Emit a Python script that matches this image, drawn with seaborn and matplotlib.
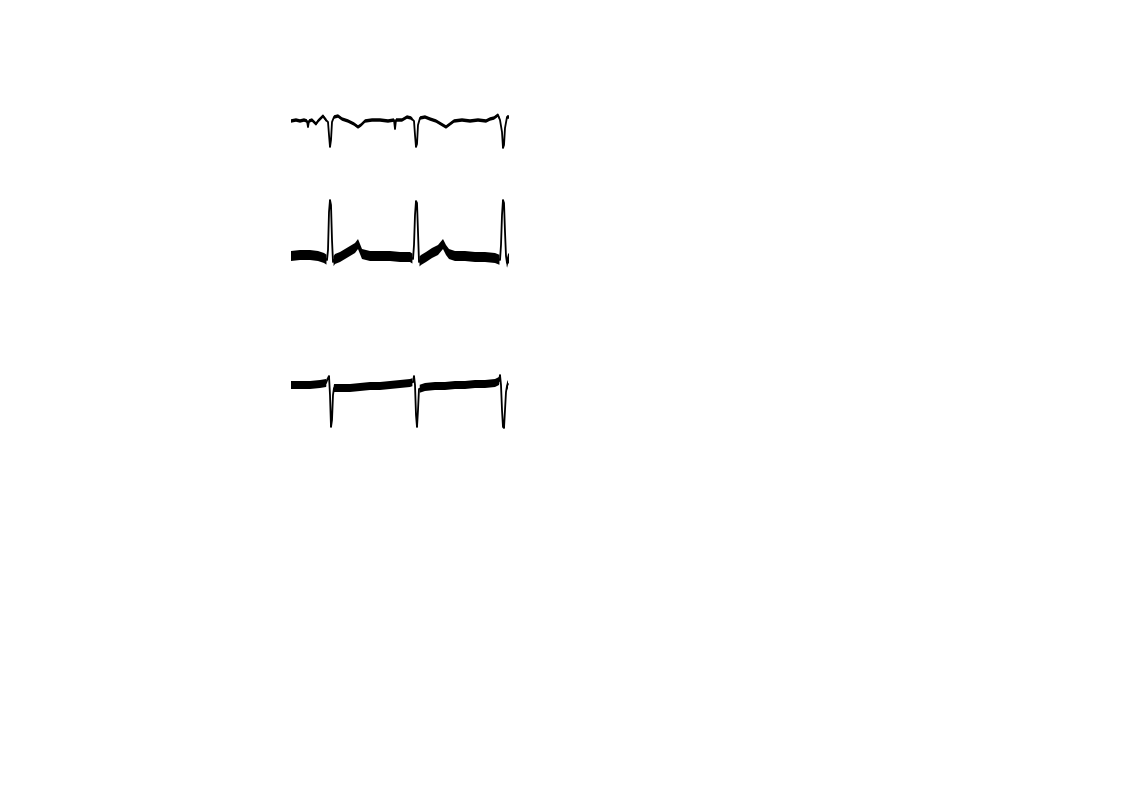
import numpy as np
import matplotlib
matplotlib.use("Agg")
import matplotlib.pyplot as plt
import seaborn as sns

# ECG leads: time in s, amplitude in mV
t1 = [0.00, 0.05, 0.09, 0.13, 0.16, 0.17, 0.18, 0.21, 0.25, 0.27, 0.32, 0.35, 0.37, 0.38,
      0.39, 0.40, 0.41, 0.43, 0.47, 0.51, 0.57, 0.63, 0.67, 0.70, 0.74, 0.81, 0.89, 0.97,
      1.03, 1.04, 1.05, 1.11, 1.16, 1.20, 1.23, 1.24, 1.25, 1.26, 1.27, 1.29, 1.34, 1.39,
      1.45, 1.50, 1.55, 1.59, 1.63, 1.71, 1.79, 1.87, 1.95, 1.99, 2.03, 2.07, 2.09, 2.11,
      2.12, 2.13, 2.14, 2.16, 2.18]
lead1 = [0.00, 0.02, 0.00, 0.02, 0.00, -0.12, 0.00, 0.02, -0.06, 0.00, 0.10, 0.02, -0.02, -0.28,
         -0.52, -0.38, -0.02, 0.08, 0.10, 0.04, 0.00, -0.06, -0.12, -0.08, 0.00, 0.02, 0.02, 0.00,
         0.02, -0.16, 0.02, 0.02, 0.08, 0.06, 0.00, -0.28, -0.52, -0.46, -0.08, 0.06, 0.08, 0.04,
         0.00, -0.06, -0.12, -0.06, 0.00, 0.02, 0.00, 0.02, 0.00, 0.04, 0.06, 0.12, 0.02, -0.22,
         -0.54, -0.48, -0.14, 0.08, 0.08]

t2 = [0.00, 0.09, 0.19, 0.27, 0.33, 0.36, 0.37, 0.38, 0.39, 0.40, 0.41, 0.42, 0.44, 0.49,
      0.54, 0.59, 0.64, 0.67, 0.69, 0.71, 0.79, 0.89, 0.99, 1.09, 1.19, 1.22, 1.23, 1.24,
      1.25, 1.26, 1.27, 1.28, 1.30, 1.35, 1.41, 1.47, 1.52, 1.55, 1.58, 1.64, 1.74, 1.84,
      1.94, 2.04, 2.09, 2.10, 2.11, 2.12, 2.13, 2.14, 2.15, 2.16, 2.17, 2.18]
lead2 = [0.00, 0.02, 0.02, 0.00, -0.04, -0.08, 0.12, 0.88, 1.12, 1.02, 0.32, -0.12, -0.06, -0.02,
         0.04, 0.10, 0.16, 0.24, 0.14, 0.04, 0.00, 0.00, 0.00, -0.02, -0.02, -0.06, 0.22, 0.82,
         1.10, 1.06, 0.48, -0.12, -0.08, -0.02, 0.06, 0.12, 0.24, 0.12, 0.04, 0.00, 0.00, -0.02,
         -0.02, -0.04, -0.08, 0.22, 0.82, 1.12, 1.06, 0.48, 0.00, -0.14, -0.06, -0.04]

t3 = [0.00, 0.09, 0.19, 0.29, 0.35, 0.37, 0.38, 0.39, 0.40, 0.41, 0.42, 0.43, 0.49, 0.59,
      0.69, 0.79, 0.89, 0.99, 1.09, 1.19, 1.22, 1.23, 1.24, 1.25, 1.26, 1.27, 1.28, 1.34,
      1.44, 1.54, 1.64, 1.74, 1.84, 1.94, 2.04, 2.08, 2.09, 2.10, 2.11, 2.12, 2.13, 2.14,
      2.15, 2.16, 2.17]
lead3 = [0.02, 0.02, 0.02, 0.04, 0.06, 0.16, 0.20, -0.18, -0.82, -0.68, -0.18, -0.04, -0.04, -0.04,
         -0.02, 0.00, 0.00, 0.02, 0.04, 0.06, 0.08, 0.20, 0.02, -0.58, -0.82, -0.48, -0.06, -0.02,
         0.00, 0.00, 0.02, 0.02, 0.04, 0.04, 0.06, 0.10, 0.22, 0.02, -0.48, -0.82, -0.84, -0.48,
         -0.12, 0.00, 0.04]

# beat times (QRS) and the half-width of the noise band on each lead
qrs_times = [0.39, 1.25, 2.12]
noise_mv = [0.035, 0.10, 0.08]

sns.set_style("white")
fig = plt.figure(figsize=(11.22, 7.93), dpi=100)
W, H = 1122, 793

# baseline row (in px) where each lead sits
baselines = [121, 256, 386]
leads = [(t1, lead1), (t2, lead2), (t3, lead3)]

for (t, v), base, amp in zip(leads, baselines, noise_mv):
    ax = fig.add_axes([291 / W, 1 - (base + 60) / H, 218 / W, 120 / H])
    t = np.array(t)
    v = np.array(v)
    # noisy band on the flat parts, left out around the QRS spikes
    tt = np.linspace(t.min(), t.max(), 800)
    vv = np.interp(tt, t, v)
    away = np.min(np.abs(tt[:, None] - np.array(qrs_times)[None, :]), axis=1) > 0.035
    ax.fill_between(tt, vv - amp, vv + amp, where=away, color="black", linewidth=0)
    sns.lineplot(x=t, y=v, ax=ax, color="black", linewidth=1.3, estimator=None, sort=False)
    ax.set_xlim(0, 2.18)
    ax.set_ylim(-1.2, 1.2)
    ax.axis("off")

fig.savefig("out.png", dpi=100, facecolor="white")
